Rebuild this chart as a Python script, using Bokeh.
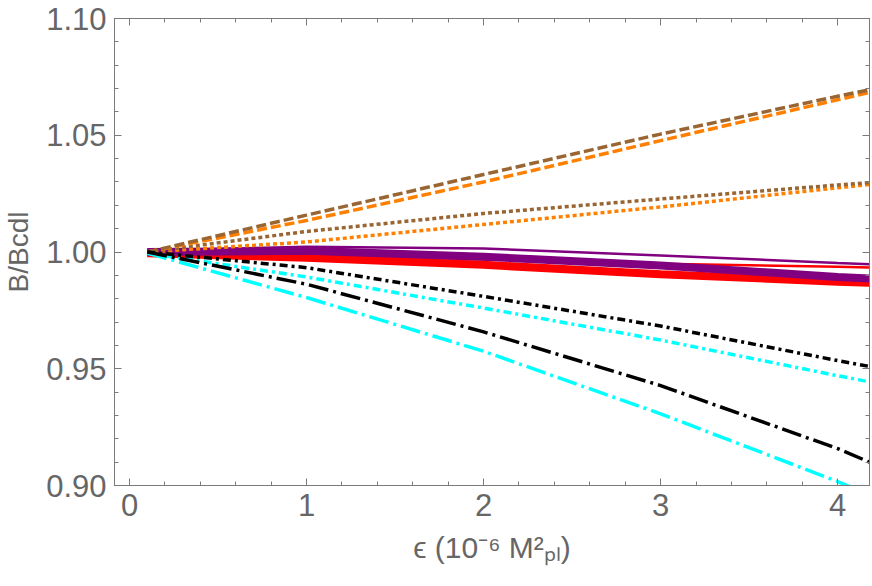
from bokeh.plotting import figure
from bokeh.models import Range1d, LinearAxis, SingleIntervalTicker, CustomJSTickFormatter
from bokeh.embed import file_html
from bokeh.resources import INLINE

# ---- data ----
eps = [0.1, 1.0, 2.0, 3.0, 4.0, 4.18]

brown_dashed  = [1.0000, 1.0158, 1.0332, 1.0505, 1.0667, 1.0695]
orange_dashed = [1.0000, 1.0135, 1.0300, 1.0477, 1.0652, 1.0683]
brown_dotted  = [1.0000, 1.0088, 1.0165, 1.0227, 1.0287, 1.0297]
orange_dotted = [1.0000, 1.0043, 1.0118, 1.0193, 1.0275, 1.0289]
purple_thin   = [1.0005, 1.0023, 1.0015, 0.9985, 0.9953, 0.9948]
red_thin      = [1.0000, 0.9990, 0.9968, 0.9950, 0.9937, 0.9934]
purple_thick  = [1.0000, 1.0005, 0.9980, 0.9942, 0.9893, 0.9886]
red_thick     = [0.9995, 0.9975, 0.9945, 0.9905, 0.9873, 0.9868]
black_dd      = [1.0000, 0.9933, 0.9810, 0.9683, 0.9535, 0.9510]
cyan_dd       = [0.9995, 0.9893, 0.9760, 0.9623, 0.9470, 0.9444]
black_ld      = [1.0000, 0.9862, 0.9658, 0.9428, 0.9158, 0.9100]
cyan_ld       = [0.9995, 0.9805, 0.9575, 0.9307, 0.9017, 0.8960]

y_label = "B/Bcdl"
x_label = "\u03f5 (10\u207b\u2076 M\u00b2\u209a\u2097)"

GRAY = "#7a7a7a"
LABEL_GRAY = "#666666"
FONT = "Liberation Sans"

p = figure(width=870, height=586, output_backend="svg", toolbar_location=None,
           x_range=Range1d(-0.085, 4.18), y_range=Range1d(0.90, 1.10),
           min_border_left=113, min_border_right=1, min_border_top=18, min_border_bottom=101)
p.xgrid.visible = False
p.ygrid.visible = False
p.outline_line_color = GRAY
p.background_fill_color = "white"
p.border_fill_color = "white"

def style_axis(ax, labels=True):
    ax.axis_line_color = GRAY
    ax.major_tick_line_color = GRAY
    ax.minor_tick_line_color = GRAY
    ax.major_tick_in = 7
    ax.major_tick_out = 0
    ax.minor_tick_in = 4
    ax.minor_tick_out = 0
    ax.major_label_text_font = FONT
    ax.major_label_text_color = LABEL_GRAY
    ax.axis_label_text_font = FONT
    ax.axis_label_text_color = LABEL_GRAY
    ax.axis_label_text_font_style = "normal"
    ax.axis_label_text_font_size = "28px"
    if labels:
        ax.major_label_text_font_size = "31px"
        ax.major_label_standoff = 8
    else:
        ax.major_label_text_font_size = "0px"
        ax.major_label_standoff = 0
        ax.formatter = CustomJSTickFormatter(code="return '';")

p.xaxis.ticker = SingleIntervalTicker(interval=1, num_minor_ticks=5)
p.yaxis.ticker = SingleIntervalTicker(interval=0.05, num_minor_ticks=5)
p.yaxis.formatter = CustomJSTickFormatter(code="return tick.toFixed(2);")
style_axis(p.xaxis[0])
style_axis(p.yaxis[0])
p.xaxis.axis_label = x_label
p.yaxis.axis_label = y_label
p.xaxis.axis_label_text_font_size = "30px"
p.xaxis.axis_label_standoff = 12
p.yaxis.axis_label_standoff = 9

top = LinearAxis(ticker=SingleIntervalTicker(interval=1, num_minor_ticks=5))
right = LinearAxis(ticker=SingleIntervalTicker(interval=0.05, num_minor_ticks=5))
style_axis(top, labels=False)
style_axis(right, labels=False)
p.add_layout(top, "above")
p.add_layout(right, "right")

# ---- lines ----
W = 3.5
p.line(eps, red_thin, line_color="#ff0000", line_width=2.5)
p.line(eps, purple_thin, line_color="#800080", line_width=2.5)
p.line(eps, red_thick, line_color="#ff0000", line_width=8)
p.line(eps, purple_thick, line_color="#800080", line_width=8)
p.line(eps, orange_dotted, line_color="#ff8000", line_width=W, line_dash="4 3")
p.line(eps, brown_dotted, line_color="#996633", line_width=W, line_dash="4 3")
p.line(eps, orange_dashed, line_color="#ff8000", line_width=W, line_dash="10 4")
p.line(eps, brown_dashed, line_color="#996633", line_width=W, line_dash="10 4")
p.line(eps, cyan_dd, line_color="#00ffff", line_width=W, line_dash="8 4 3 4")
p.line(eps, black_dd, line_color="#000000", line_width=W, line_dash="8 4 3 4")
p.line(eps, cyan_ld, line_color="#00ffff", line_width=W, line_dash="20 5 3 5")
p.line(eps, black_ld, line_color="#000000", line_width=W, line_dash="20 5 3 5")

open("out.html", "w").write(file_html(p, INLINE))
